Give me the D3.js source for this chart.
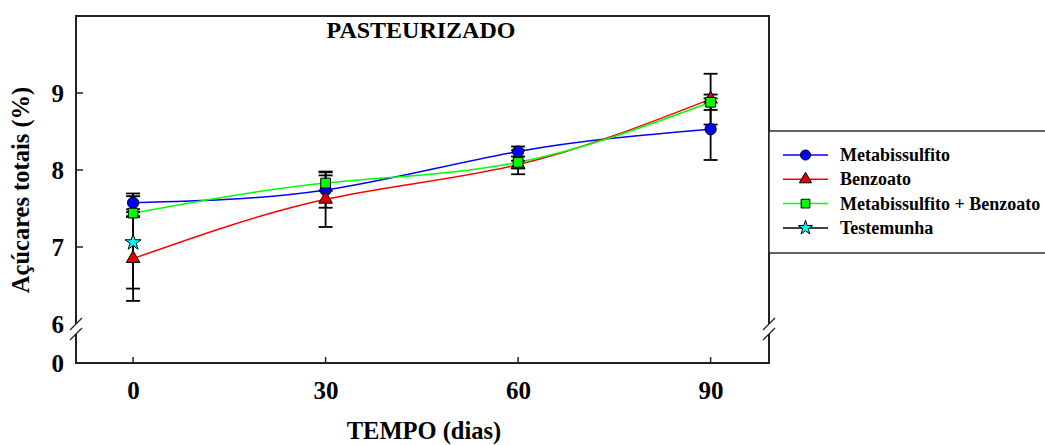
<!DOCTYPE html>
<html><head><meta charset="utf-8">
<script src="https://cdn.jsdelivr.net/npm/d3@7"></script>
<style>body{margin:0;background:#fff}svg{display:block}text{font-family:"Liberation Serif","Times New Roman",serif;font-weight:bold;fill:#000}</style>
</head><body><svg id="c" width="1045" height="445"></svg>
<script>
const days = [0, 30, 60, 90];
const metabissulfito = [7.575, 7.74, 8.24, 8.53];
const metabissulfitoErr = [0.12, 0.23, 0.065, 0.40];
const benzoato = [6.85, 7.62, 8.07, 8.92];
const benzoatoErr = [0.55, 0.36, 0.05, 0.33];
const metaBenzo = [7.44, 7.83, 8.10, 8.88];
const metaBenzoErr = [0.05, 0.1, 0.155, 0.1];
const testemunhaDays = [0];
const testemunha = [7.06];
const testemunhaErr = [0.60];
const yTicks = [0, 6, 7, 8, 9];
const xTicks = [0, 30, 60, 90];
const seriesNames = ["Metabissulfito", "Benzoato", "Metabissulfito + Benzoato", "Testemunha"];

const svg = d3.select("#c");
const L = 76, R = 769, T = 16, B = 363;
const x = d3.scaleLinear().domain([-8.9, 99.1]).range([L, R]);
const y = d3.scaleLinear().domain([0, 6, 10]).range([B, 324, T]);

const series = [
  {name: seriesNames[0], xs: days, v: metabissulfito, e: metabissulfitoErr, color: "#0000ff", fill: "#0000ff", sym: d3.symbolCircle, size: 100},
  {name: seriesNames[1], xs: days, v: benzoato, e: benzoatoErr, color: "#ff0000", fill: "#e00000", sym: d3.symbolTriangle, size: 80},
  {name: seriesNames[2], xs: days, v: metaBenzo, e: metaBenzoErr, color: "#00ff00", fill: "#00ff00", sym: d3.symbolSquare, size: 95},
  {name: seriesNames[3], xs: testemunhaDays, v: testemunha, e: testemunhaErr, color: "#000000", fill: "#00ffff", sym: d3.symbolStar, size: 80}
];

const line = d3.line().x(d => x(d[0])).y(d => y(d[1])).curve(d3.curveNatural);
series.forEach(s => {
  if (s.xs.length > 1) {
    svg.append("path").attr("d", line(s.xs.map((d, i) => [d, s.v[i]])))
      .attr("fill", "none").attr("stroke", s.color).attr("stroke-width", 1.5);
  }
});
const cap = 7;
series.forEach(s => {
  s.xs.forEach((d, i) => {
    const cx = x(d), y1 = y(s.v[i] + s.e[i]), y2 = y(s.v[i] - s.e[i]);
    const g = svg.append("g").attr("stroke", "#000").attr("stroke-width", 1.8);
    g.append("line").attr("x1", cx).attr("x2", cx).attr("y1", y1).attr("y2", y2);
    g.append("line").attr("x1", cx - cap).attr("x2", cx + cap).attr("y1", y1).attr("y2", y1);
    g.append("line").attr("x1", cx - cap).attr("x2", cx + cap).attr("y1", y2).attr("y2", y2);
  });
});
series.forEach(s => {
  s.xs.forEach((d, i) => {
    svg.append("path").attr("d", d3.symbol().type(s.sym).size(s.size)())
      .attr("transform", `translate(${x(d)},${y(s.v[i])})`)
      .attr("fill", s.fill).attr("stroke", "#000").attr("stroke-width", 1);
  });
});

const bk1 = y(6), bk2 = y(6) + 10;
const frame = svg.append("g").attr("stroke", "#222").attr("stroke-width", 2).attr("fill", "none");
frame.append("path").attr("d", `M${L},${bk1}V${T}H${R}V${bk1}`);
frame.append("path").attr("d", `M${L},${bk2}V${B}H${R}V${bk2}`);
[L, R].forEach(px => [bk1, bk2].forEach(py => {
  svg.append("line").attr("x1", px - 6).attr("x2", px + 6).attr("y1", py + 6).attr("y2", py - 6)
    .attr("stroke", "#222").attr("stroke-width", 1.3);
}));

const yAxis = d3.axisLeft(y).tickValues(yTicks).tickSize(0).tickPadding(12).tickFormat(d3.format("d"));
const ya = svg.append("g").attr("transform", `translate(${L},0)`).call(yAxis);
ya.select(".domain").remove();
ya.selectAll("text").attr("font-size", 25).attr("font-family", "Liberation Serif").attr("font-weight", "bold");
yTicks.filter(t => t > 6).forEach(t => {
  svg.append("line").attr("x1", L).attr("x2", L + 7).attr("y1", y(t)).attr("y2", y(t)).attr("stroke", "#222").attr("stroke-width", 1.5);
});
const xAxis = d3.axisBottom(x).tickValues(xTicks).tickSize(0).tickPadding(18);
const xa = svg.append("g").attr("transform", `translate(0,${B})`).call(xAxis);
xa.select(".domain").remove();
xa.selectAll("text").attr("font-size", 25).attr("font-family", "Liberation Serif").attr("font-weight", "bold");
xTicks.forEach(t => {
  svg.append("line").attr("x1", x(t)).attr("x2", x(t)).attr("y1", B).attr("y2", B - 6).attr("stroke", "#222").attr("stroke-width", 1.5);
});

svg.append("text").attr("x", 421).attr("y", 38).attr("text-anchor", "middle").attr("font-size", 24).text("PASTEURIZADO");
svg.append("text").attr("x", 424).attr("y", 439).attr("text-anchor", "middle").attr("font-size", 24.5).text("TEMPO (dias)");
svg.append("text").attr("transform", "translate(29,190) rotate(-90)").attr("text-anchor", "middle").attr("font-size", 24.5).text("Açúcares totais (%)");

const lg = svg.append("g");
lg.append("rect").attr("x", R).attr("y", 131).attr("width", 300).attr("height", 122)
  .attr("fill", "#fff").attr("stroke", "#222").attr("stroke-width", 1.4);
series.forEach((s, i) => {
  const ly = 155 + i * 24.3;
  lg.append("line").attr("x1", 783).attr("x2", 828).attr("y1", ly).attr("y2", ly).attr("stroke", s.color).attr("stroke-width", 1.5);
  lg.append("path").attr("d", d3.symbol().type(s.sym).size(s.size * 0.8)()).attr("transform", `translate(805.5,${ly})`)
    .attr("fill", s.fill).attr("stroke", "#000").attr("stroke-width", 1);
  lg.append("text").attr("x", 840).attr("y", ly).attr("dy", "0.33em").attr("font-size", 18).text(s.name);
});
</script></body></html>
